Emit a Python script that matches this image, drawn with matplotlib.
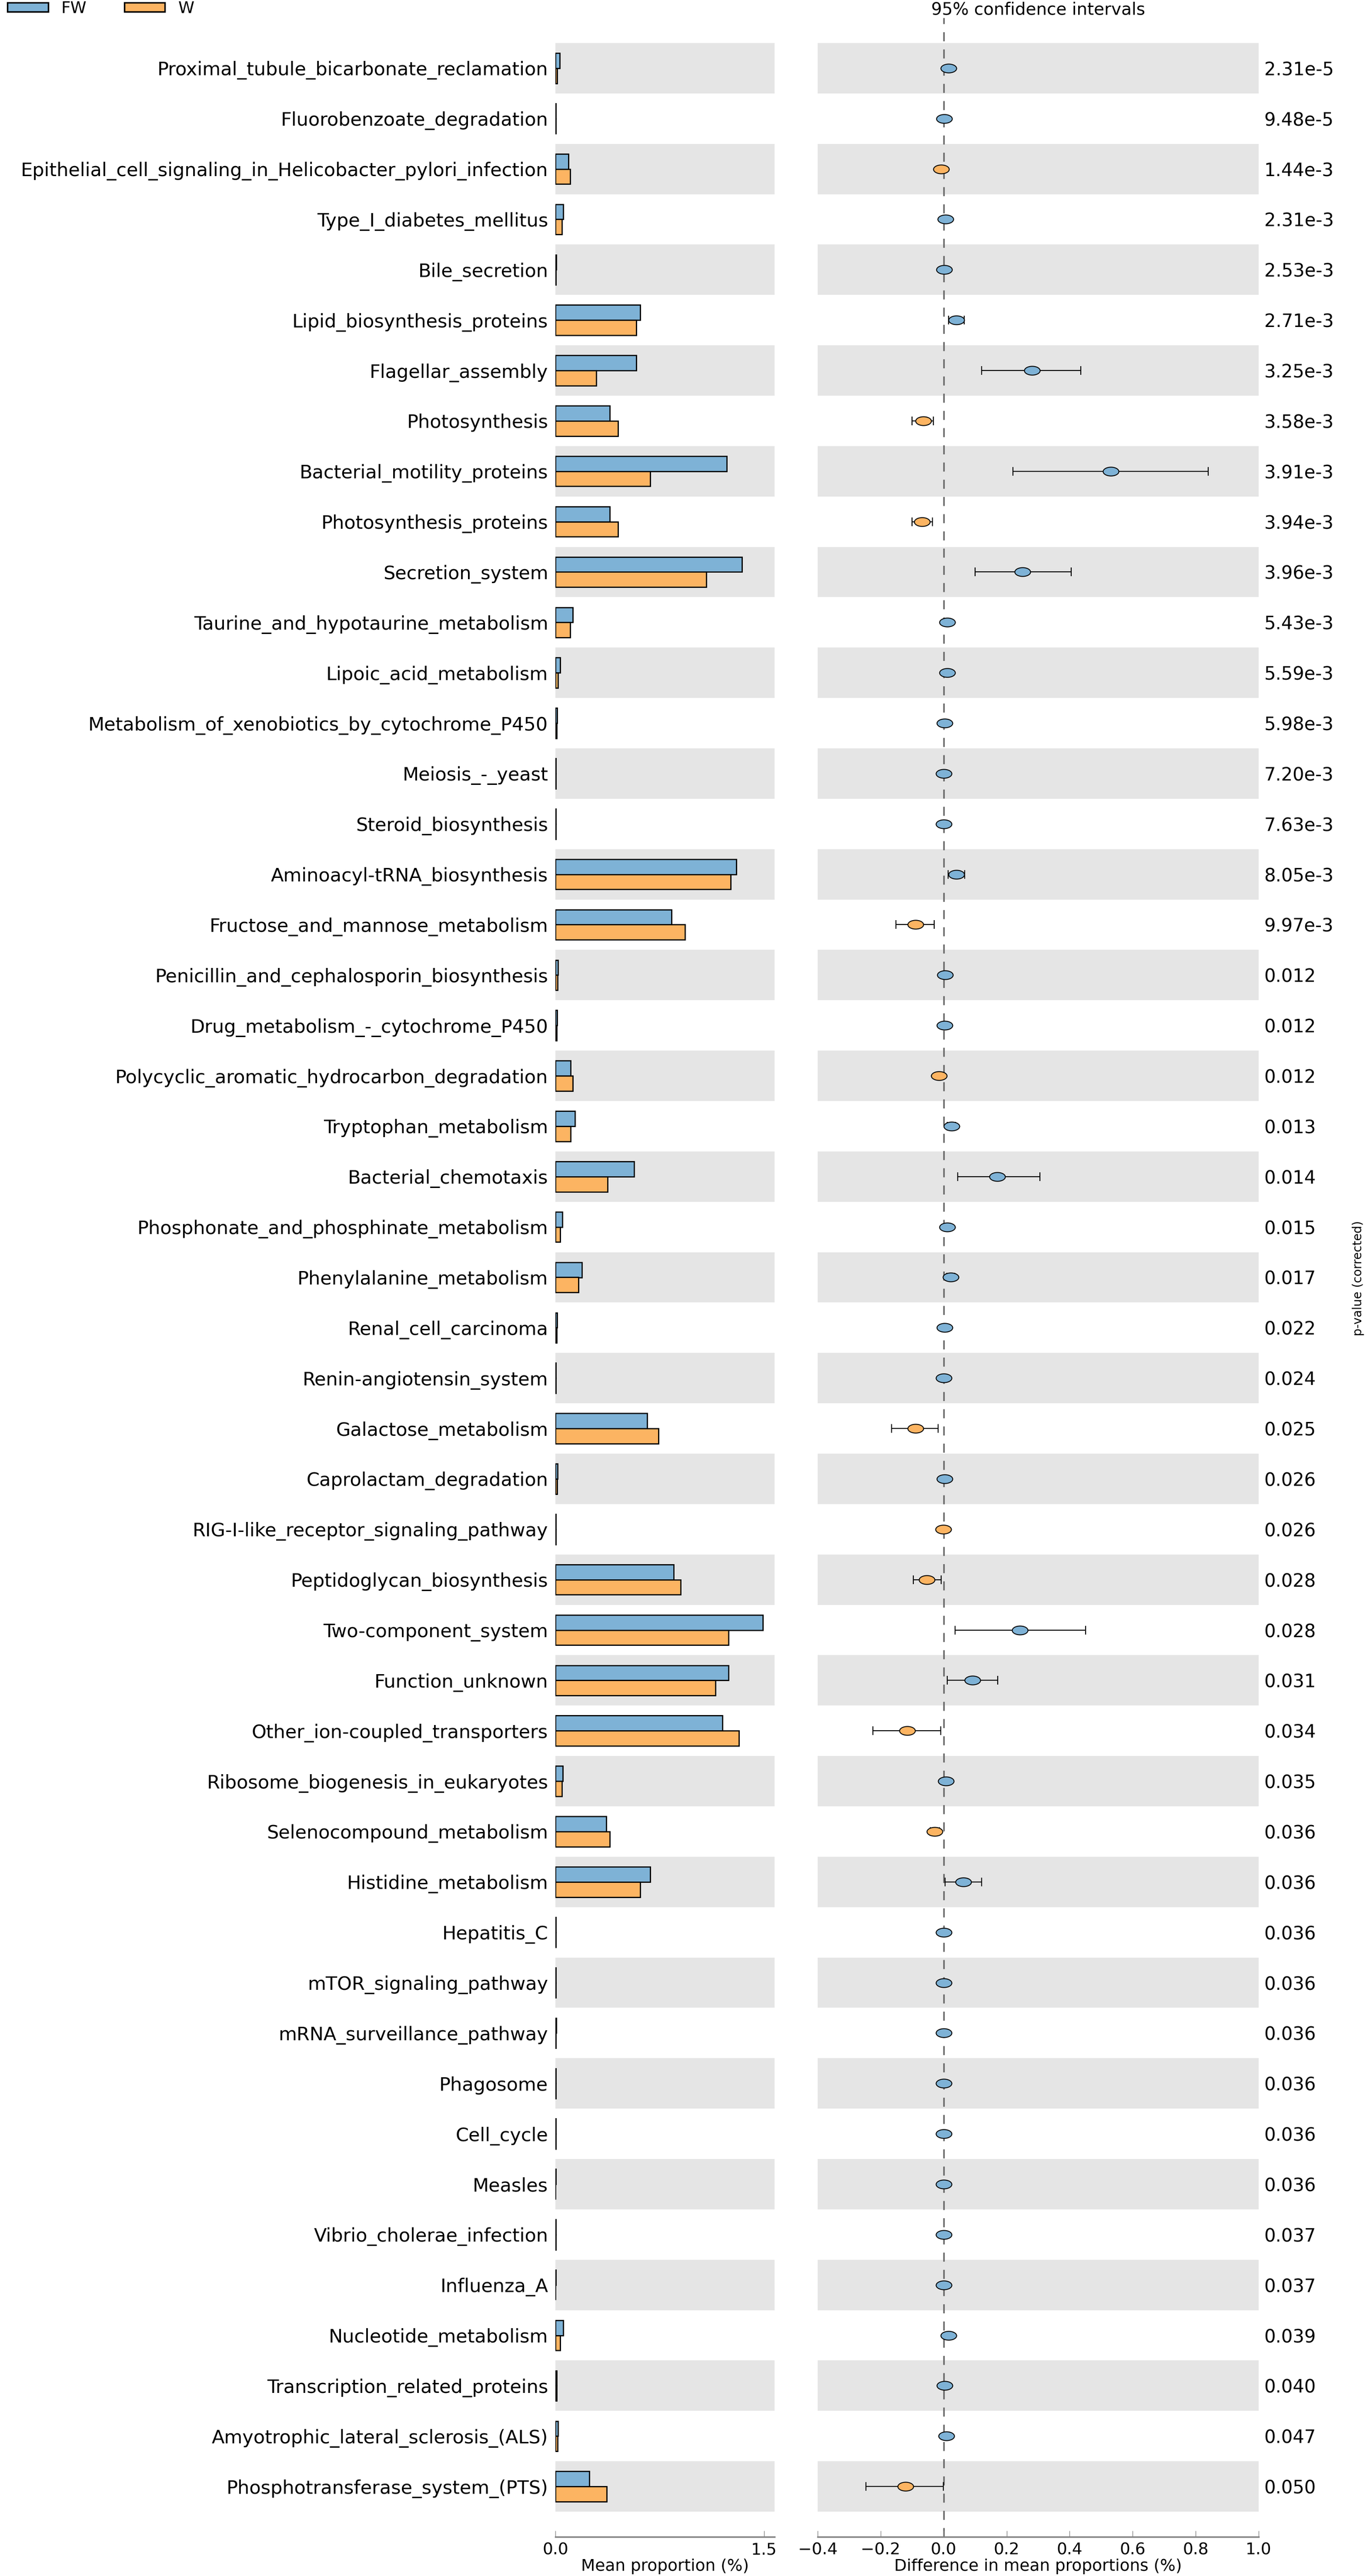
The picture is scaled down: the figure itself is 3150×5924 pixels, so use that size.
import numpy as np
import matplotlib
matplotlib.use("Agg")
import matplotlib.pyplot as plt
from matplotlib.patches import Patch
from matplotlib.path import Path
from matplotlib.transforms import Affine2D

features = [
    "Proximal_tubule_bicarbonate_reclamation", "Fluorobenzoate_degradation",
    "Epithelial_cell_signaling_in_Helicobacter_pylori_infection", "Type_I_diabetes_mellitus",
    "Bile_secretion", "Lipid_biosynthesis_proteins", "Flagellar_assembly", "Photosynthesis",
    "Bacterial_motility_proteins", "Photosynthesis_proteins", "Secretion_system",
    "Taurine_and_hypotaurine_metabolism", "Lipoic_acid_metabolism",
    "Metabolism_of_xenobiotics_by_cytochrome_P450", "Meiosis_-_yeast", "Steroid_biosynthesis",
    "Aminoacyl-tRNA_biosynthesis", "Fructose_and_mannose_metabolism",
    "Penicillin_and_cephalosporin_biosynthesis", "Drug_metabolism_-_cytochrome_P450",
    "Polycyclic_aromatic_hydrocarbon_degradation", "Tryptophan_metabolism",
    "Bacterial_chemotaxis", "Phosphonate_and_phosphinate_metabolism",
    "Phenylalanine_metabolism", "Renal_cell_carcinoma", "Renin-angiotensin_system",
    "Galactose_metabolism", "Caprolactam_degradation", "RIG-I-like_receptor_signaling_pathway",
    "Peptidoglycan_biosynthesis", "Two-component_system", "Function_unknown",
    "Other_ion-coupled_transporters", "Ribosome_biogenesis_in_eukaryotes",
    "Selenocompound_metabolism", "Histidine_metabolism", "Hepatitis_C",
    "mTOR_signaling_pathway", "mRNA_surveillance_pathway", "Phagosome", "Cell_cycle",
    "Measles", "Vibrio_cholerae_infection", "Influenza_A", "Nucleotide_metabolism",
    "Transcription_related_proteins", "Amyotrophic_lateral_sclerosis_(ALS)",
    "Phosphotransferase_system_(PTS)",
]

# mean proportions (%)
fw_mean = [0.030, 0.004, 0.095, 0.055, 0.005, 0.61, 0.58, 0.39, 1.23, 0.39, 1.34,
           0.125, 0.035, 0.012, 0.004, 0.003, 1.30, 0.835, 0.020, 0.012, 0.11, 0.14,
           0.565, 0.05, 0.19, 0.012, 0.004, 0.66, 0.015, 0.003, 0.85, 1.49, 1.245,
           1.20, 0.054, 0.365, 0.68, 0.003, 0.004, 0.005, 0.003, 0.003, 0.002, 0.003,
           0.002, 0.055, 0.010, 0.020, 0.245]
w_mean = [0.012, 0.002, 0.105, 0.048, 0.003, 0.58, 0.295, 0.45, 0.68, 0.45, 1.085,
          0.105, 0.020, 0.009, 0.003, 0.002, 1.26, 0.93, 0.015, 0.010, 0.125, 0.11,
          0.375, 0.035, 0.165, 0.008, 0.003, 0.74, 0.012, 0.004, 0.90, 1.245, 1.15,
          1.32, 0.047, 0.39, 0.61, 0.002, 0.003, 0.004, 0.002, 0.002, 0.001, 0.002,
          0.001, 0.035, 0.008, 0.015, 0.37]

# difference in mean proportions (%) with 95% CI
diff = [0.015, 0.002, -0.008, 0.006, 0.002, 0.04, 0.28, -0.065, 0.53, -0.068, 0.25,
        0.012, 0.012, 0.003, 0.001, 0.001, 0.04, -0.09, 0.004, 0.003, -0.015, 0.025,
        0.17, 0.012, 0.022, 0.003, 0.001, -0.09, 0.003, -0.001, -0.053, 0.242, 0.092,
        -0.116, 0.007, -0.028, 0.063, 0.001, 0.001, 0.001, 0.001, 0.001, 0.001, 0.001,
        0.001, 0.015, 0.003, 0.008, -0.121]
ci_low = [0.008, 0.001, -0.012, 0.003, 0.001, 0.015, 0.12, -0.10, 0.22, -0.10, 0.10,
          0.005, 0.006, 0.001, 0.0, 0.0, 0.014, -0.152, 0.002, 0.001, -0.022, 0.012,
          0.045, 0.005, 0.010, 0.001, 0.0, -0.165, 0.001, -0.002, -0.096, 0.036, 0.012,
          -0.224, 0.003, -0.042, 0.004, 0.0, 0.0, 0.0, 0.0, 0.0, 0.0, 0.0,
          0.0, 0.008, 0.001, 0.004, -0.247]
ci_high = [0.022, 0.003, -0.005, 0.009, 0.003, 0.065, 0.435, -0.033, 0.84, -0.035, 0.405,
           0.020, 0.018, 0.005, 0.002, 0.002, 0.066, -0.03, 0.006, 0.005, -0.008, 0.038,
           0.305, 0.018, 0.035, 0.005, 0.002, -0.017, 0.005, 0.0, -0.008, 0.45, 0.171,
           -0.009, 0.011, -0.014, 0.12, 0.002, 0.002, 0.002, 0.002, 0.002, 0.002, 0.002,
           0.002, 0.022, 0.005, 0.012, -0.001]

p_values = ["2.31e-5", "9.48e-5", "1.44e-3", "2.31e-3", "2.53e-3", "2.71e-3", "3.25e-3",
            "3.58e-3", "3.91e-3", "3.94e-3", "3.96e-3", "5.43e-3", "5.59e-3", "5.98e-3",
            "7.20e-3", "7.63e-3", "8.05e-3", "9.97e-3", "0.012", "0.012", "0.012", "0.013",
            "0.014", "0.015", "0.017", "0.022", "0.024", "0.025", "0.026", "0.026", "0.028",
            "0.028", "0.031", "0.034", "0.035", "0.036", "0.036", "0.036", "0.036", "0.036",
            "0.036", "0.036", "0.036", "0.037", "0.037", "0.039", "0.040", "0.047", "0.050"]

groups = ["FW", "W"]
blue = "#7EB2D6"
orange = "#FCB462"
band = "#E5E5E5"
fs = 27        # axis ticks / axis labels
fs_lab = 31    # feature names
fs_p = 30      # p-values

W, H = 3150, 5924
fig = plt.figure(figsize=(W / 100, H / 100), dpi=100)
bottom = 90 / H
height = (5834 - 41) / H
ax1 = fig.add_axes([1277 / W, bottom, 504 / W, height])
ax2 = fig.add_axes([1880 / W, bottom, 1014 / W, height])

n = len(features)
y = np.arange(n)

for ax in (ax1, ax2):
    for i in range(0, n, 2):
        ax.axhspan(i - 0.5, i + 0.5, color=band, zorder=0, lw=0)
    ax.set_ylim(n, -1)
    for s in ("top", "left", "right"):
        ax.spines[s].set_visible(False)
    ax.spines["bottom"].set_color("0.5")
    ax.spines["bottom"].set_linewidth(2.5)
    ax.tick_params(axis="x", direction="in", length=10, width=1, color="0.5",
                   labelsize=fs, pad=9)

# left panel: mean proportions
ax1.barh(y - 0.15, fw_mean, height=0.3, color=blue, edgecolor="black", lw=2, zorder=2)
ax1.barh(y + 0.15, w_mean, height=0.3, color=orange, edgecolor="black", lw=2, zorder=2)
ax1.set_xlim(0, 1.575)
ax1.set_xticks([0.0, 1.5])
ax1.set_xticklabels(["0.0", "1.5"])
ax1.set_yticks(y)
ax1.set_yticklabels(features, fontsize=fs_lab)
ax1.tick_params(axis="y", length=0, pad=12)
ax1.set_xlabel("Mean proportion (%)", fontsize=fs, labelpad=1)

# right panel: differences with confidence intervals
ellipse = Affine2D().scale(1.0, 0.56).transform_path(Path.unit_circle())
ax2.axvline(0, color="0.4", lw=2.5, ls=(0, (6, 5.4)), zorder=1)
for i in range(n):
    col = blue if diff[i] >= 0 else orange
    ax2.errorbar(diff[i], i, xerr=[[diff[i] - ci_low[i]], [ci_high[i] - diff[i]]],
                 fmt="none", ecolor="black", elinewidth=1.6, capsize=7, capthick=1.6,
                 zorder=3)
    ax2.plot(diff[i], i, marker=ellipse, ms=26, mfc=col, mec="black", mew=1.5,
             ls="none", zorder=4)
ax2.set_xlim(-0.4, 1.0)
ticks = np.round(np.arange(-0.4, 1.01, 0.2), 1)
ax2.set_xticks(ticks)
ax2.set_xticklabels(["\u22120.4", "\u22120.2", "0.0", "0.2", "0.4", "0.6", "0.8", "1.0"])
ax2.set_xlabel("Difference in mean proportions (%)", fontsize=fs, labelpad=1)
ax2.yaxis.tick_right()
ax2.set_yticks(y)
ax2.set_yticklabels(p_values, fontsize=fs_p)
ax2.tick_params(axis="y", length=0, pad=9)

fig.text(2387 / W, 1 - 22 / H, "95% confidence intervals", fontsize=28,
         ha="center", va="center")
fig.text(3123 / W, 1 - 2940 / H, "p-value (corrected)", fontsize=20,
         rotation=90, ha="center", va="center")

handles = [Patch(facecolor=blue, edgecolor="black", lw=2.5),
           Patch(facecolor=orange, edgecolor="black", lw=2.5)]
fig.legend(handles, groups, loc="upper left", bbox_to_anchor=(17 / W, 1 - 2 / H),
           ncol=2, frameon=False, fontsize=fs, borderpad=0, borderaxespad=0,
           handlelength=2.5, handleheight=0.5, handletextpad=0.8, columnspacing=2.3)

fig.savefig("out.png", dpi=100)
